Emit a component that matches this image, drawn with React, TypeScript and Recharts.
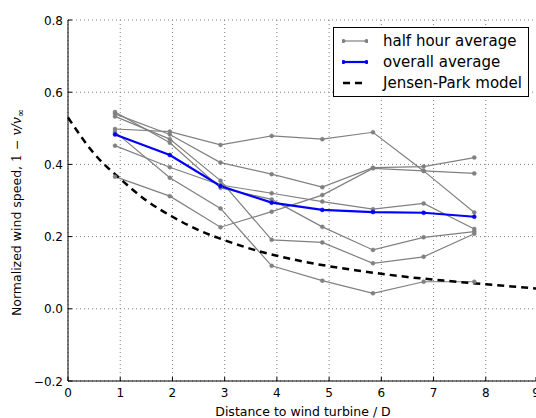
import { CartesianGrid, Line, LineChart, XAxis, YAxis } from "recharts";

// distance of the measurement points, in rotor diameters
const distances = [0.9, 1.95, 2.92, 3.9, 4.87, 5.84, 6.81, 7.78];

// individual half-hour averages
const halfHour1 = [0.498, 0.491, 0.454, 0.479, 0.47, 0.489, 0.382, 0.267];
const halfHour2 = [0.54, 0.483, 0.405, 0.373, 0.337, 0.391, 0.394, 0.419];
const halfHour3 = [0.533, 0.47, 0.355, 0.191, 0.184, 0.126, 0.144, 0.208];
const halfHour4 = [0.452, 0.392, 0.343, 0.32, 0.297, 0.276, 0.292, 0.221];
const halfHour5 = [0.49, 0.363, 0.278, 0.119, 0.078, 0.043, 0.075, 0.075];
const halfHour6 = [0.366, 0.312, 0.226, 0.269, 0.315, 0.389, 0.382, 0.375];
const halfHour7 = [0.545, 0.46, 0.335, 0.303, 0.227, 0.163, 0.198, 0.214];
const overallAverage = [0.483, 0.426, 0.34, 0.294, 0.274, 0.268, 0.266, 0.255];

// Jensen-Park model curve
const modelDistances = [0, 0.5, 1, 1.5, 2, 2.5, 3, 3.5, 4, 4.5, 5, 5.5, 6, 6.5, 7, 7.5, 8, 8.5, 9];
const modelDeficit = [
  0.53, 0.43, 0.36, 0.3, 0.255, 0.218, 0.19, 0.166, 0.147, 0.131, 0.118, 0.107, 0.097, 0.088,
  0.081, 0.074, 0.068, 0.062, 0.056
];

const xTicks = [0, 1, 2, 3, 4, 5, 6, 7, 8, 9];
const yTicks = [-0.2, 0, 0.2, 0.4, 0.6, 0.8];

const legendLabels = ["half hour average", "overall average", "Jensen-Park model"];

const halfHourSeries = [halfHour1, halfHour2, halfHour3, halfHour4, halfHour5, halfHour6, halfHour7];

const measured = distances.map((x, i) => {
  const row: Record<string, number> = { x, overall: overallAverage[i] };
  halfHourSeries.forEach((s, k) => {
    row[`h${k}`] = s[i];
  });
  return row;
});
const model = modelDistances.map((x, i) => ({ x, model: modelDeficit[i] }));

const FONT = "'DejaVu Sans', sans-serif";
const fmtY = (v: number) => (v < 0 ? "\u2212" + Math.abs(v).toFixed(1) : v.toFixed(1));

function BottomTick({ x, y, payload }: any) {
  return (
    <g>
      <line x1={x} x2={x} y1={y} y2={y - 4} stroke="#000" />
      <text x={x} y={y + 16} textAnchor="middle" fontSize={12} fontFamily={FONT} fill="#000">
        {payload.value}
      </text>
    </g>
  );
}

function TopTick({ x, y }: any) {
  return <line x1={x} x2={x} y1={y} y2={y + 4} stroke="#000" />;
}

function LeftTick({ x, y, payload }: any) {
  return (
    <g>
      <line x1={x} x2={x + 4} y1={y} y2={y} stroke="#000" />
      <text x={x - 5} y={y + 4.5} textAnchor="end" fontSize={12} fontFamily={FONT} fill="#000">
        {fmtY(payload.value)}
      </text>
    </g>
  );
}

function RightTick({ x, y }: any) {
  return <line x1={x} x2={x - 4} y1={y} y2={y} stroke="#000" />;
}

function YLabel({ viewBox }: any) {
  const cx = viewBox.x + 21;
  const cy = viewBox.y + viewBox.height / 2 + 12;
  return (
    <text
      x={cx}
      y={cy}
      transform={`rotate(-90, ${cx}, ${cy})`}
      textAnchor="middle"
      fontSize={12.5}
      fontFamily={FONT}
      fill="#000"
    >
      Normalized wind speed,{"  "}
      <tspan fontFamily="'DejaVu Serif', serif">1 − </tspan>
      <tspan fontFamily="'DejaVu Serif', serif" fontStyle="italic">v/v</tspan>
      <tspan fontFamily="'DejaVu Serif', serif" fontSize={10} dy={3}>∞</tspan>
    </text>
  );
}

function LegendBox() {
  const styles = [
    { color: "#808080", width: 1.2, dash: undefined, dots: true },
    { color: "#0000ff", width: 2.2, dash: undefined, dots: true },
    { color: "#000", width: 2.5, dash: "7 5", dots: false }
  ];
  return (
    <div
      style={{
        position: "absolute",
        left: 333,
        top: 27,
        border: "1px solid #000",
        background: "#fff",
        width: 196,
        height: 70,
        boxSizing: "border-box",
        padding: "2px 0 0 8px",
        fontFamily: FONT,
        fontSize: 15
      }}
    >
      {legendLabels.map((label, i) => {
        const r = styles[i];
        return (
          <div key={label} style={{ display: "flex", alignItems: "center", height: 21.3 }}>
            <svg width={26} height={10} style={{ marginRight: 15 }}>
              <line x1={1} x2={25} y1={5} y2={5} stroke={r.color} strokeWidth={r.width} strokeDasharray={r.dash} />
              {r.dots && (
                <>
                  <circle cx={1.5} cy={5} r={2} fill={r.color} />
                  <circle cx={24.5} cy={5} r={2} fill={r.color} />
                </>
              )}
            </svg>
            <span style={{ lineHeight: "18px", whiteSpace: "nowrap" }}>{label}</span>
          </div>
        );
      })}
    </div>
  );
}

export default function App() {
  return (
    <div
      style={{
        position: "absolute",
        left: 0,
        top: 0,
        width: 536,
        height: 418,
        overflow: "hidden",
        background: "#fff"
      }}
    >
      <LineChart width={540} height={418} data={measured} margin={{ top: 20, right: 2, bottom: 0, left: 0 }}>
        <CartesianGrid stroke="#808080" strokeDasharray="1 3" />
        <XAxis
          dataKey="x"
          type="number"
          domain={[0, 9]}
          ticks={xTicks}
          height={37}
          tickSize={0}
          tickMargin={0}
          axisLine={{ stroke: "#000" }}
          tick={<BottomTick />}
          label={{
            value: "Distance to wind turbine / D",
            position: "insideBottom",
            offset: 2,
            fontSize: 12.5,
            fontFamily: FONT,
            fill: "#000"
          }}
        />
        <XAxis
          xAxisId="top"
          orientation="top"
          type="number"
          domain={[0, 9]}
          ticks={xTicks}
          height={0}
          tickSize={0}
          tickMargin={0}
          axisLine={{ stroke: "#000" }}
          tick={<TopTick />}
        />
        <YAxis
          type="number"
          domain={[-0.2, 0.8]}
          ticks={yTicks}
          width={68}
          tickSize={0}
          tickMargin={0}
          axisLine={{ stroke: "#000" }}
          tick={<LeftTick />}
          label={<YLabel />}
        />
        <YAxis
          yAxisId="right"
          orientation="right"
          type="number"
          domain={[-0.2, 0.8]}
          ticks={yTicks}
          width={0}
          tickSize={0}
          tickMargin={0}
          axisLine={{ stroke: "#000" }}
          tick={<RightTick />}
        />
        {halfHourSeries.map((_, k) => (
          <Line
            key={k}
            dataKey={`h${k}`}
            stroke="#808080"
            strokeWidth={1.2}
            dot={{ r: 2, fill: "#808080", stroke: "#808080", strokeWidth: 0.5 }}
            isAnimationActive={false}
          />
        ))}
        <Line
          dataKey="overall"
          stroke="#0000ff"
          strokeWidth={2.2}
          dot={{ r: 2, fill: "#0000ff", stroke: "#0000ff", strokeWidth: 0.5 }}
          isAnimationActive={false}
        />
        <Line
          data={model}
          dataKey="model"
          type="monotone"
          stroke="#000"
          strokeWidth={2.5}
          strokeDasharray="7 5"
          dot={false}
          isAnimationActive={false}
        />
      </LineChart>
      <LegendBox />
    </div>
  );
}
